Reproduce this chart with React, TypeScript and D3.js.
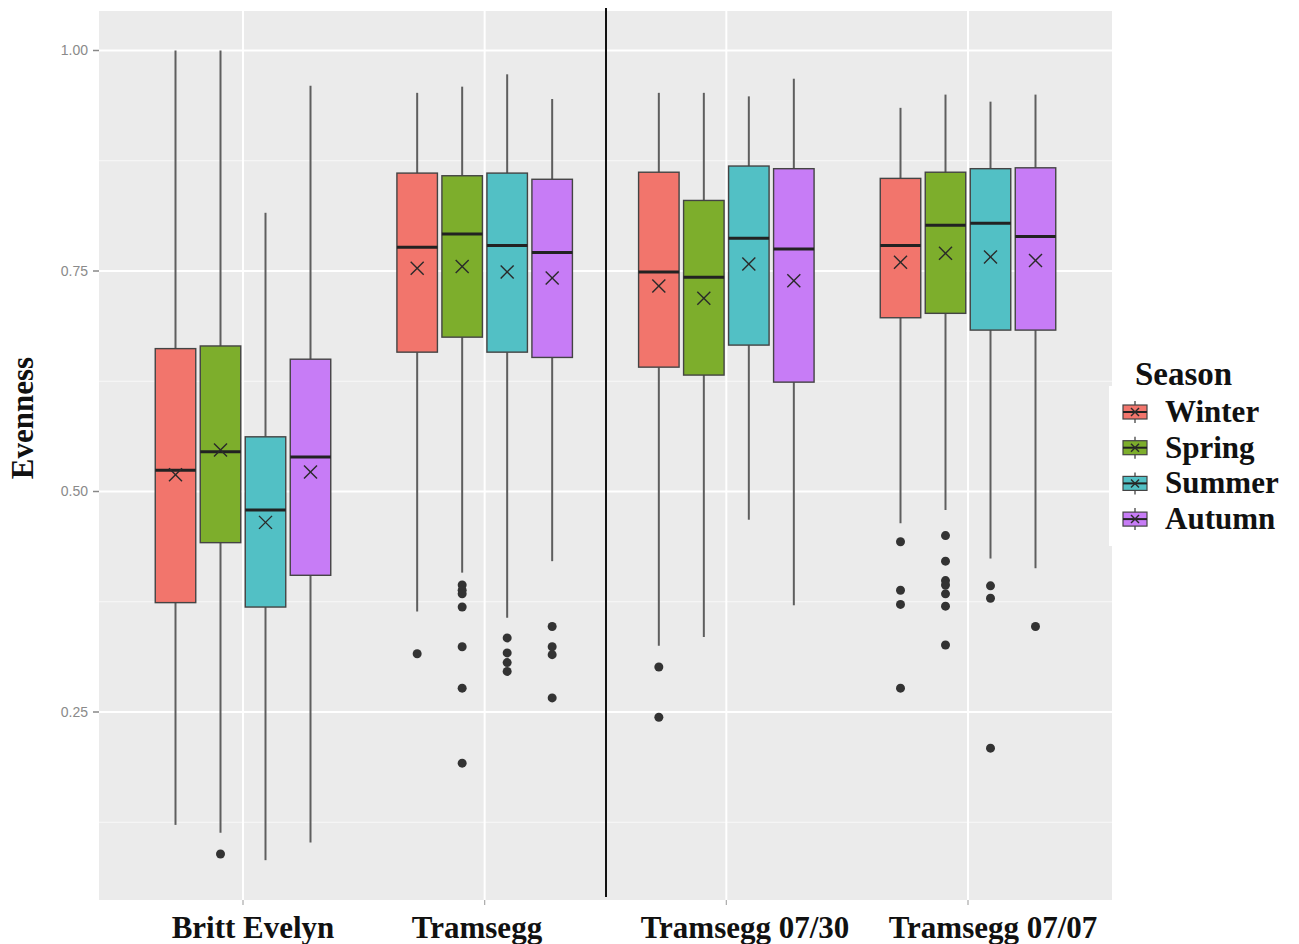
import React from 'react';
import * as d3 from 'd3';

const sites = ['Britt Evelyn', 'Tramsegg', 'Tramsegg 07/30', 'Tramsegg 07/07'];
const seasons = ['Winter', 'Spring', 'Summer', 'Autumn'];
const seasonColors = ['#F2756C', '#7DAE2C', '#52C0C5', '#C77CF6'];
const yTicks = [0.25, 0.5, 0.75, 1.0];
const yMinorTicks = [0.125, 0.375, 0.625, 0.875];

// rows = sites, columns = seasons
const lowWhisker = [
  [0.122, 0.113, 0.082, 0.102],
  [0.364, 0.408, 0.357, 0.421],
  [0.325, 0.335, 0.468, 0.371],
  [0.464, 0.479, 0.424, 0.413],
];
const q1 = [
  [0.374, 0.442, 0.369, 0.405],
  [0.658, 0.675, 0.658, 0.652],
  [0.641, 0.632, 0.666, 0.624],
  [0.697, 0.702, 0.683, 0.683],
];
const median = [
  [0.524, 0.545, 0.479, 0.539],
  [0.777, 0.792, 0.779, 0.771],
  [0.749, 0.743, 0.787, 0.775],
  [0.779, 0.802, 0.804, 0.789],
];
const q3 = [
  [0.662, 0.665, 0.562, 0.65],
  [0.861, 0.858, 0.861, 0.854],
  [0.862, 0.83, 0.869, 0.866],
  [0.855, 0.862, 0.866, 0.867],
];
const highWhisker = [
  [1.0, 1.0, 0.816, 0.96],
  [0.952, 0.959, 0.973, 0.945],
  [0.952, 0.952, 0.948, 0.968],
  [0.935, 0.95, 0.942, 0.95],
];
const means = [
  [0.519, 0.547, 0.465, 0.522],
  [0.753, 0.755, 0.749, 0.742],
  [0.733, 0.719, 0.758, 0.739],
  [0.76, 0.77, 0.766, 0.762],
];
const outliers = [
  [[], [0.089], [], []],
  [[0.316], [0.394, 0.388, 0.384, 0.369, 0.324, 0.277, 0.192], [0.334, 0.317, 0.306, 0.296], [0.347, 0.324, 0.315, 0.266]],
  [[0.301, 0.244], [], [], []],
  [[0.443, 0.388, 0.372, 0.277], [0.45, 0.421, 0.399, 0.394, 0.384, 0.37, 0.326], [0.393, 0.379, 0.209], [0.347]],
];

const W = 1299;
const H = 944;
const panel = { left: 99, right: 1112, top: 11, bottom: 900 };
const serif = '"Liberation Serif", "Times New Roman", serif';
const sans = '"Liberation Sans", Arial, sans-serif';

const Cross = ({ cx, cy, s, color }: { cx: number; cy: number; s: number; color: string }) => (
  <g stroke={color} strokeWidth={1.4}>
    <line x1={cx - s} y1={cy - s} x2={cx + s} y2={cy + s} />
    <line x1={cx - s} y1={cy + s} x2={cx + s} y2={cy - s} />
  </g>
);

const App = () => {
  const y = d3.scaleLinear().domain([0, 1]).range([932.5, 50.5]);
  const x = d3.scalePoint<string>().domain(sites).range([243, 968]);
  const dodge = d3.scaleBand<string>().domain(seasons).range([-90, 90]).paddingInner(0.1).paddingOuter(0.05);
  const bw = dodge.bandwidth();

  // the category labels sit a little off their ticks in the original
  const labelCenters = [253, 477, 745, 993];

  return (
    <svg width={W} height={H} style={{ position: 'absolute', left: 0, top: 0, background: '#fff' }}>
      <rect x={0} y={0} width={W} height={H} fill="#fff" />
      <rect x={panel.left} y={panel.top} width={panel.right - panel.left} height={panel.bottom - panel.top} fill="#EBEBEB" />
      {yMinorTicks.map(t => (
        <line key={'mn' + t} x1={panel.left} x2={panel.right} y1={y(t)} y2={y(t)} stroke="#fff" strokeWidth={1} opacity={0.7} />
      ))}
      {yTicks.map(t => (
        <line key={'mj' + t} x1={panel.left} x2={panel.right} y1={y(t)} y2={y(t)} stroke="#fff" strokeWidth={2} />
      ))}
      {sites.map(s => (
        <line key={'vx' + s} x1={x(s)} x2={x(s)} y1={panel.top} y2={panel.bottom} stroke="#fff" strokeWidth={2} />
      ))}

      {/* y axis */}
      {yTicks.map(t => (
        <g key={'yt' + t}>
          <line x1={93} x2={99} y1={y(t)} y2={y(t)} stroke="#888" strokeWidth={1.5} />
          <text x={88} y={y(t)} dy="0.35em" textAnchor="end" fontFamily={sans} fontSize={14} fill="#8a8a8a">
            {d3.format('.2f')(t)}
          </text>
        </g>
      ))}
      {sites.map(s => (
        <line key={'xt' + s} x1={x(s)} x2={x(s)} y1={panel.bottom} y2={panel.bottom + 5} stroke="#aaa" strokeWidth={1.2} />
      ))}

      {/* boxes */}
      {sites.map((site, i) =>
        seasons.map((season, j) => {
          const cx = (x(site) as number) + (dodge(season) as number) + bw / 2;
          const x0 = cx - bw / 2;
          return (
            <g key={site + season}>
              <line x1={cx} x2={cx} y1={y(highWhisker[i][j])} y2={y(q3[i][j])} stroke="#5e5e5e" strokeWidth={2} />
              <line x1={cx} x2={cx} y1={y(q1[i][j])} y2={y(lowWhisker[i][j])} stroke="#5e5e5e" strokeWidth={2} />
              <rect
                x={x0}
                y={y(q3[i][j])}
                width={bw}
                height={y(q1[i][j]) - y(q3[i][j])}
                fill={seasonColors[j]}
                stroke="#444"
                strokeWidth={1.4}
              />
              <line x1={x0} x2={x0 + bw} y1={y(median[i][j])} y2={y(median[i][j])} stroke="#222" strokeWidth={3} />
              <Cross cx={cx} cy={y(means[i][j])} s={6.5} color="#2a2a2a" />
              {outliers[i][j].map((o, k) => (
                <circle key={k} cx={cx} cy={y(o)} r={4.5} fill="#333" />
              ))}
            </g>
          );
        })
      )}

      {/* separator */}
      <line x1={606} x2={606} y1={8} y2={897} stroke="#111" strokeWidth={2} />

      {/* x labels */}
      {sites.map((s, i) => (
        <text key={'xl' + s} x={labelCenters[i]} y={938} textAnchor="middle" fontFamily={serif} fontWeight="bold" fontSize={31} fill="#111">
          {s}
        </text>
      ))}

      {/* y title */}
      <text transform="translate(33,418) rotate(-90)" textAnchor="middle" fontFamily={serif} fontWeight="bold" fontSize={31} fill="#111">
        Evenness
      </text>

      {/* legend */}
      <rect x={1109} y={386} width={190} height={160} fill="#fff" />
      <text x={1135} y={385} fontFamily={serif} fontWeight="bold" fontSize={33} fill="#111">
        Season
      </text>
      {seasons.map((s, j) => {
        const cy = 412 + j * 35.7;
        return (
          <g key={'lg' + s}>
            <line x1={1135} x2={1135} y1={cy - 11} y2={cy + 11} stroke="#5e5e5e" strokeWidth={1.5} />
            <rect x={1123} y={cy - 7} width={24} height={14} fill={seasonColors[j]} stroke="#444" strokeWidth={1.2} />
            <line x1={1123} x2={1147} y1={cy} y2={cy} stroke="#222" strokeWidth={2} />
            <Cross cx={1135} cy={cy} s={4} color="#2a2a2a" />
            <text x={1165} y={cy + 10} fontFamily={serif} fontWeight="bold" fontSize={31} fill="#111">
              {s}
            </text>
          </g>
        );
      })}
    </svg>
  );
};

export default App;
